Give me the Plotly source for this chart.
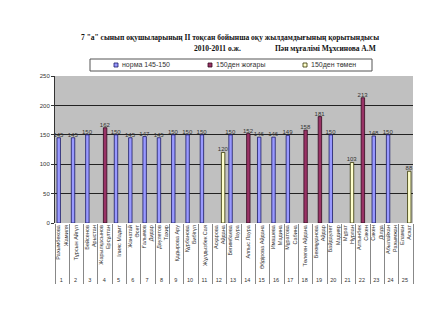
import plotly.graph_objects as go

numbers = [str(i) for i in range(1, 26)]
names = [
    "Рахымбекова<br>Жамиля", "Тұрсын Айгүл", "Бейсенов<br>Арыстан", "Жарылқасынов<br>Ерсұлтан",
    "Ілияс Мадит", "Жанатай<br>Әсет", "Ғалымов<br>Дидар", "Дәулетов<br>Тахир", "Қадырова Ару",
    "Құрбанова<br>Бибігүл", "Жұлдызбек Сая", "Асқарова<br>Айдана", "Бегимбаева<br>Лаура",
    "Алпыс Лаура", "Әбдірова Айдана", "Имашева<br>Мадина", "Мұратова<br>Сабина",
    "Төлеген Айдана", "Бекмұқанова<br>Айдар", "Байдаулет<br>Мадияр", "Мұрат<br>Нұрлан",
    "Алтынбек<br>Сәкен", "Сәкен<br>Ділда", "Абылайхан<br>Рахымжан", "Еламан<br>Асхат",
]
values = [145, 145, 150, 162, 150, 145, 147, 145, 150, 150, 150, 120, 150,
          152, 146, 146, 149, 158, 181, 150, 103, 213, 148, 150, 88]
groups = ["n", "n", "n", "h", "n", "n", "n", "n", "n", "n", "n", "l", "n",
          "h", "n", "n", "n", "h", "h", "n", "l", "h", "n", "n", "l"]
series = [("n", "норма 145-150", "#9999FF", "#1a1a66"),
          ("h", "150ден жоғары", "#993366", "#330a1f"),
          ("l", "150ден төмен", "#FFFFCC", "#333300")]

W, H = 448, 336
ML, MR, MT, MB = 55, 35, 76, 113
pw, ph = W - ML - MR, H - MT - MB


def px(xp):
    return (xp - ML) / pw


def py(yp):
    return (H - MB - yp) / ph


fig = go.Figure()
for key, label, fill, edge in series:
    ys = [v if g == key else None for v, g in zip(values, groups)]
    txt = [str(v) if g == key else "" for v, g in zip(values, groups)]
    fig.add_trace(go.Bar(
        x=[numbers, names], y=ys, name=label, text=txt, showlegend=False,
        textposition="outside", constraintext="none", cliponaxis=False,
        textfont=dict(size=6, color="#333333", family="Liberation Sans"),
        marker=dict(color=fill, line=dict(color=edge, width=0.8)),
    ))

fig.update_layout(
    width=W, height=H, barmode="group", bargap=0.28, bargroupgap=0,
    margin=dict(l=ML, r=MR, t=MT, b=MB, autoexpand=False),
    paper_bgcolor="white", plot_bgcolor="#C0C0C0",
    font=dict(family="Liberation Sans", size=6, color="#333333"),
    showlegend=False,
    xaxis=dict(type="multicategory", tickangle=-90, showgrid=False,
               showdividers=True, dividercolor="#888888", dividerwidth=1,
               tickfont=dict(size=5.5, color="#333333"), ticks="",
               showline=False),
    yaxis=dict(range=[0, 250], dtick=50, showgrid=True, gridcolor="#222222", gridwidth=0.8,
               zeroline=False, showline=True, linecolor="#333333", ticks="outside",
               ticklen=3, tickcolor="#333333", tickfont=dict(size=6, color="#333333")),
)

# Legend box (drawn as shapes + text to match the compact Excel-style legend)
fig.add_shape(type="rect", xref="paper", yref="paper",
              x0=px(90), x1=px(372), y0=py(71), y1=py(59),
              fillcolor="white", line=dict(color="#555555", width=1))
leg_x = [114, 208, 303]
for (key, label, fill, edge), lx in zip(series, leg_x):
    fig.add_shape(type="rect", xref="paper", yref="paper",
                  x0=px(lx), x1=px(lx + 4), y0=py(67), y1=py(63),
                  fillcolor=fill, line=dict(color=edge, width=0.8))
    fig.add_annotation(text=label, x=px(lx + 6), y=py(65), xref="paper", yref="paper",
                       showarrow=False, xanchor="left", yanchor="middle",
                       font=dict(size=7, family="Liberation Sans", color="#333333"))

tfont = dict(family="Liberation Serif", size=7.5, color="#111111")
fig.add_annotation(text="<b>7 \"а\" сынып оқушыларының ІІ тоқсан бойынша оқу жылдамдығының қорытындысы</b>",
                   x=px(230), y=py(38), xref="paper", yref="paper", showarrow=False,
                   xanchor="center", yanchor="middle", font=tfont)
fig.add_annotation(text="<b>2010-2011 о.ж.</b>", x=px(217), y=py(48), xref="paper", yref="paper",
                   showarrow=False, xanchor="center", yanchor="middle", font=tfont)
fig.add_annotation(text="<b>Пән мұғалімі Мұхсинова А.М</b>", x=px(325), y=py(48), xref="paper", yref="paper",
                   showarrow=False, xanchor="center", yanchor="middle", font=tfont)

fig.write_html("out.html")
